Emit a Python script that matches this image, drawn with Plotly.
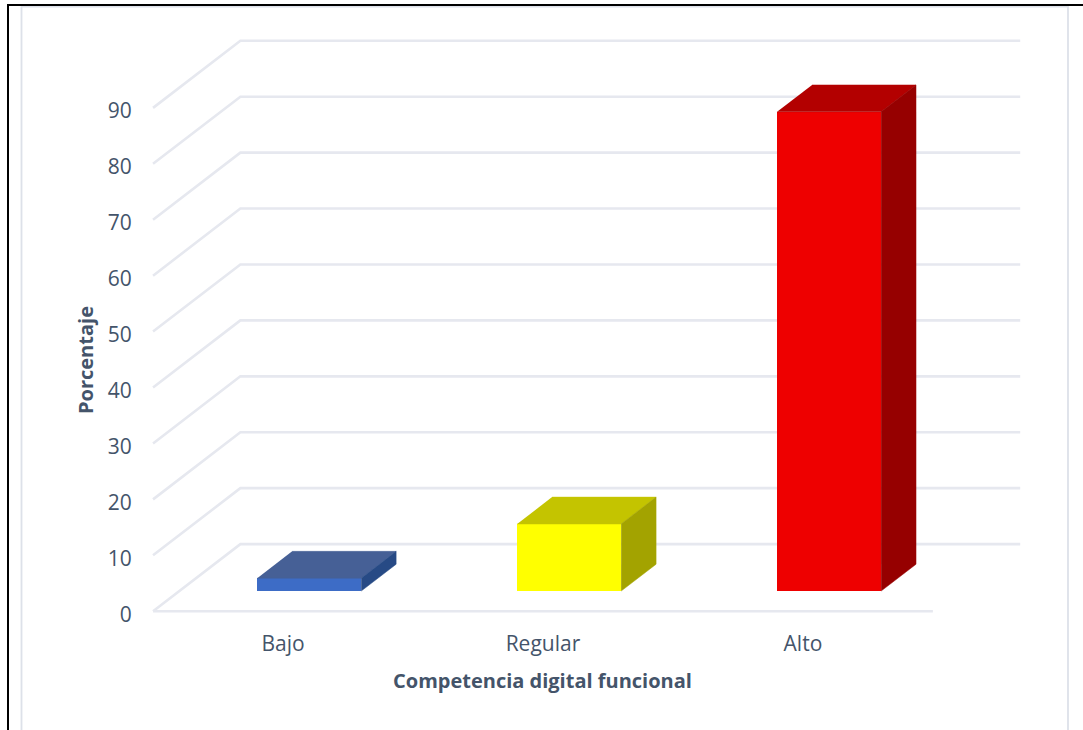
import plotly.graph_objects as go

# Chart content
categories = ["Bajo", "Regular", "Alto"]
percentages = [2.3, 12.0, 85.7]
y_ticks = [0, 10, 20, 30, 40, 50, 60, 70, 80, 90]

front_colors = ["#3d6cc6", "#ffff00", "#ee0000"]
top_colors = ["#466096", "#c4c400", "#b30000"]
side_colors = ["#274a85", "#a3a300", "#960000"]

INK = "#44546a"
GRID = "#e6e8ef"
FRAME = "#dde1e9"

# Page and plot geometry, in pixels
W, H = 1083, 730
L, R, T, B = 152, 1021, 38, 614

# Oblique projection: the floor recedes this far in axis units
DEPTH_X = 0.336
DEPTH_Y = 12.0
X_MIN, X_MAX = -0.5, 2.5 + DEPTH_X
# A small margin on the value axis keeps the outermost gridlines from being clipped
X_RANGE = [X_MIN - 0.004, X_MAX + 0.003]
Y_RANGE = [-0.5, 102.5]

# Where the bars sit within the floor depth, and their width in category units
BAR_FRONT = 0.30
BAR_BACK = 0.70
BAR_WIDTH = 0.40


def px(x):
    return (x - L) / (R - L)


def py(y):
    return (B - y) / (B - T)


def project(x, value, depth):
    return x + depth * DEPTH_X, value + depth * DEPTH_Y


fig = go.Figure()

# Floor edge plus the side-and-back gridlines at each tick, kept beneath all traces
grid_path = f"M {X_MIN} 0 L 2.5 0 "
for tick in y_ticks:
    corner_x, corner_y = project(X_MIN, tick, 1)
    end_x, end_y = project(2.5, tick, 1)
    grid_path += f"M {X_MIN} {tick} L {corner_x} {corner_y} L {end_x} {end_y} "


def face(points, color):
    xs = [p[0] for p in points]
    ys = [p[1] for p in points]
    fig.add_trace(go.Scatter(x=xs, y=ys, mode="lines", fill="toself",
                             fillcolor=color, line=dict(color=color, width=0.5),
                             hoverinfo="skip", showlegend=False))


# Front faces
fig.add_trace(go.Bar(
    x=[i + BAR_FRONT * DEPTH_X for i in range(len(categories))],
    y=percentages,
    base=BAR_FRONT * DEPTH_Y,
    width=BAR_WIDTH,
    marker=dict(color=front_colors, line=dict(width=0)),
    customdata=categories,
    hovertemplate="%{customdata}: %{y}%<extra></extra>",
    showlegend=False,
))

# Top and side faces of each block
for i, value in enumerate(percentages):
    left, right = i - BAR_WIDTH / 2, i + BAR_WIDTH / 2
    base = BAR_FRONT * DEPTH_Y
    span = BAR_BACK - BAR_FRONT
    fx_l, _ = project(left, 0, BAR_FRONT)
    fx_r, _ = project(right, 0, BAR_FRONT)
    dx, dy = span * DEPTH_X, span * DEPTH_Y
    top = base + value
    face([(fx_l, top), (fx_r, top), (fx_r + dx, top + dy), (fx_l + dx, top + dy)],
         top_colors[i])
    face([(fx_r, base), (fx_r + dx, base + dy), (fx_r + dx, top + dy), (fx_r, top)],
         side_colors[i])

tick_font = dict(family="Open Sans", size=21, color=INK)
title_font = dict(family="Open Sans", size=20, color=INK)

fig.update_layout(
    width=W, height=H,
    margin=dict(l=L, r=W - R, t=T, b=H - B),
    paper_bgcolor="white", plot_bgcolor="white",
    bargap=0,
    xaxis=dict(range=X_RANGE, tickmode="array",
               tickvals=list(range(len(categories))), ticktext=categories,
               showgrid=False, zeroline=False, showline=False,
               ticks="outside", ticklen=11, tickcolor="rgba(0,0,0,0)",
               tickfont=tick_font),
    yaxis=dict(range=Y_RANGE, tickmode="array", tickvals=y_ticks,
               showgrid=False, zeroline=False, showline=False,
               ticks="outside", ticklen=15, tickcolor="rgba(0,0,0,0)",
               ticklabelshift=3, tickfont=tick_font),
    annotations=[
        dict(text="<b>Competencia digital funcional</b>", xref="paper", yref="paper",
             x=px(542), y=py(680), xanchor="center", yanchor="middle",
             showarrow=False, font=title_font),
        dict(text="<b>Porcentaje</b>", xref="paper", yref="paper",
             x=px(85), y=py(360), xanchor="center", yanchor="middle",
             textangle=-90, showarrow=False, font=title_font),
    ],
    shapes=[
        dict(type="path", xref="x", yref="y", layer="below", path=grid_path,
             line=dict(color=GRID, width=2.6)),
        # Chart area outline, open at the bottom of the page
        dict(type="path", xref="paper", yref="paper", layer="below",
             path=f"M {px(21.5)} {py(730)} L {px(21.5)} {py(6.5)} "
                  f"L {px(1068)} {py(6.5)} L {px(1068)} {py(730)}",
             line=dict(color=FRAME, width=1.8)),
        # Surrounding black rule
        dict(type="path", xref="paper", yref="paper", layer="above",
             path=f"M {px(8)} {py(730)} L {px(8)} {py(5)} L {px(1083)} {py(5)}",
             line=dict(color="black", width=2)),
    ],
)

fig.write_html("out.html", config=dict(displayModeBar=False))
